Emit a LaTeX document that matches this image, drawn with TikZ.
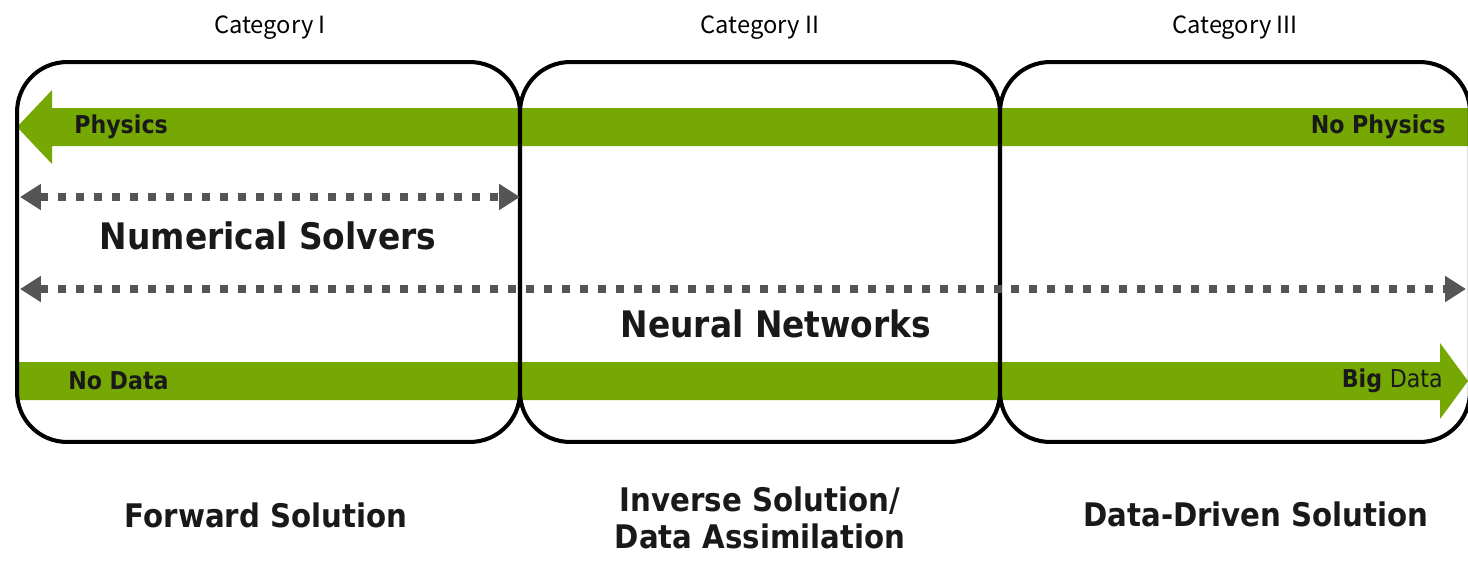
\documentclass[tikz,border=0pt]{standalone}
\usepackage{fontspec}
\setmainfont{DejaVu Sans Condensed}
\newfontfamily\catfont{Noto Sans CJK JP}
\usetikzlibrary{arrows.meta}
\definecolor{nvgreen}{RGB}{118,168,4}
\definecolor{dotgray}{RGB}{85,85,85}
\definecolor{inkdark}{RGB}{25,25,25}

\begin{document}
\begin{tikzpicture}[x=0.02cm, y=-0.02cm,
        cat/.style = {font=\catfont\fontsize{13.5}{16}\selectfont, text=black},
        box/.style = {draw=black, line width=2.3pt, rounded corners=1cm, minimum height=7.6cm, inner sep=0pt},
        band/.style = {fill=nvgreen},
        tag/.style = {font=\bfseries\fontsize{14}{16}\selectfont, text=inkdark, inner sep=0pt},
        big/.style = {font=\bfseries\fontsize{20.8}{24}\selectfont, text=inkdark},
        sol/.style = {font=\bfseries\fontsize{18.5}{21}\selectfont, text=inkdark, align=center},
        dots/.style = {draw=dotgray, line width=4.5pt, dash pattern=on 0.16cm off 0.2cm,
            {Triangle[length=0.42cm,width=0.5cm]}-{Triangle[length=0.42cm,width=0.5cm]}}]
    \useasboundingbox (0,0) rectangle (1468,575);

    % green bands
    \fill[band] (17,127) -- (52,90) -- (52,108) -- (1470,108) -- (1470,146) -- (52,146) -- (52,164) -- cycle;
    \fill[band] (17,362) -- (1440,362) -- (1440,343) -- (1468,381) -- (1440,419) -- (1440,400) -- (17,400) -- cycle;

    % the three categories
    \node[box, minimum width=10.06cm] (b1) at (268.5,252) {};
    \node[box, minimum width=9.6cm] (b2) at (760,252) {};
    \node[box, minimum width=9.4cm] (b3) at (1235,252) {};

    \node[cat] (c1) at (270,28) {Category I};
    \node[cat] (c2) at (760,28) {Category II};
    \node[cat] (c3) at (1235,28) {Category III};

    \node[tag, anchor=west] (phy) at (74,127) {Physics};
    \node[tag, anchor=east] (nophy) at (1446,127) {No Physics};
    \node[tag, anchor=west] (nodata) at (68,381) {No Data};
    \node[tag, anchor=east] (bigdata) at (1443,381) {Big \mdseries Data};

    % ranges
    \coordinate (n1) at (20,197);
    \coordinate (n2) at (520,197);
    \coordinate (m1) at (20,289);
    \coordinate (m2) at (1466,289);
    \draw[dots] (n1) -- (n2);
    \draw[dots] (m1) -- (m2);

    \node[big] (num) at (268,236) {Numerical Solvers};
    \node[big] (nn) at (776,324) {Neural Networks};

    \node[sol] (fwd) at (266,515) {Forward Solution};
    \node[sol] (inv) at (760,518) {Inverse Solution/\\Data Assimilation};
    \node[sol] (dd) at (1256,514) {Data-Driven Solution};
\end{tikzpicture}
\end{document}
